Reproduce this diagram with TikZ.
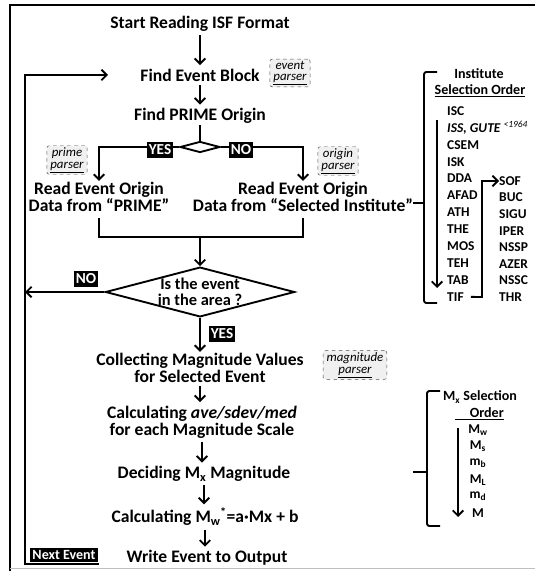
\documentclass[tikz,border=0pt]{standalone}
\usepackage{fontspec}
\setmainfont{Carlito}
\usetikzlibrary{shapes.geometric, arrows.meta, positioning}

\begin{document}
\begin{tikzpicture}[
    x=0.03cm, y=-0.03cm,
    flow/.style={align=center, inner sep=1pt, font=\bfseries\fontsize{15}{14.5}\selectfont},
    parser/.style={draw=black!70, dashed, fill=black!6, rounded corners=2pt, align=center, inner xsep=3pt, inner ysep=1.5pt, font=\itshape\fontsize{11}{10}\selectfont},
    tag/.style={fill=black, text=white, inner sep=1.5pt, text height=9pt, text depth=1pt, font=\bfseries\fontsize{13}{13}\selectfont},
    item/.style={inner sep=0pt, font=\bfseries\fontsize{11.5}{12}\selectfont},
    heading/.style={inner sep=0pt, font=\bfseries\fontsize{12}{12}\selectfont},
    wire/.style={line width=1.6pt},
    arrow/.style={->, >={Straight Barb[length=4.5pt, width=9pt]}, line width=1.6pt},
    brk/.style={line width=1.6pt, rounded corners=2pt}
]
\useasboundingbox (0,0) rectangle (535,571);

% frame
\draw[line width=2.2pt] (10,571) -- (10,5) -- (535,5);
\draw[black!25, line width=0.8pt] (10,568.5) -- (535,568.5);

% main flow
\node[flow] (start) at (200,24) {Start Reading ISF Format};
\node[flow] (event) at (200,75) {Find Event Block};
\node[flow] (prime) at (200,116) {Find PRIME Origin};
\node[draw, diamond, wire, inner sep=0pt, minimum width=1.2cm, minimum height=0.33cm] (sel) at (200,147) {};
\node[flow] (readA) at (99,197) {Read Event Origin\\Data from “PRIME”};
\node[flow] (readB) at (303,197) {Read Event Origin\\Data from “Selected Institute”};
\node[flow, draw, diamond, wire, aspect=3.8, inner sep=0pt, font=\bfseries\fontsize{14}{13.6}\selectfont] (area) at (200,292) {Is the event\\in the area ?};
\node[flow] (collect) at (200,368) {Collecting Magnitude Values\\for Selected Event};
\node[flow] (stats) at (202,422) {Calculating \textit{ave/sdev/med}\\for each Magnitude Scale};
\node[flow] (decide) at (204,474) {Deciding M\textsubscript{x} Magnitude};
\node[flow] (convert) at (205,517) {Calculating M\textsubscript{w}\kern-0.5pt\textsuperscript{*}=a·Mx + b};
\node[flow] (write) at (207,558) {Write Event to Output};

\foreach \from/\to in {start/event, event/prime, collect/stats, stats/decide, decide/convert, convert/write}
    \draw[arrow, shorten <=2pt, shorten >=2pt] (\from.south) -- (\from.south |- \to.north);

% origin choice
\draw[wire] (prime) -- (sel);
\draw[arrow] (sel.west) -| (readA.north);
\draw[arrow] (sel.east) -| (readB.north);
\node[tag] (yesA) at (160,150) {YES};
\node[tag] (noA) at (241,150) {NO};

\coordinate (join) at (200,237);
\draw[wire, shorten <=4pt] (readA.south) |- (join);
\draw[wire, shorten <=4pt] (readB.south) |- (join);
\draw[arrow] (join) -- (area.north);

\coordinate (noend) at (25,292);
\draw[arrow] (area.west) -- (noend);
\node[tag] (noB) at (86,279) {NO};
\draw[arrow] (area.south) -- (collect.north);
\node[tag] (yesB) at (222,334) {YES};

% loop back
\coordinate (loopin) at (108,75);
\node[tag, inner xsep=2.5pt, text height=8.5pt, text depth=0pt, font=\bfseries\fontsize{12}{12}\selectfont] (next) at (64,555) {Next Event};
\draw[arrow] ([yshift=-1.5pt]next.south east) -| (noend) |- (loopin);

% parsers
\node[parser] (evparse) at (290,73) {event\\\underline{parser}};
\node[parser] (primeparse) at (67,160) {prime\\\underline{parser}};
\node[parser] (originparse) at (338,161) {origin\\\underline{parser}};
\node[parser] (magparse) at (355,365) {magnitude\\\underline{parser}};

% institute order
\node[heading] (insttitle) at (479,74) {Institute};
\node[heading] (instorder) at (480,91) {\underline{Selection Order}};
\foreach \name [count=\i from 0] in {ISC, {{\itshape ISS, GUTE}~\textsuperscript{\mdseries\itshape <1964}}, CSEM, ISK, DDA, AFAD, ATH, THE, MOS, TEH, TAB, TIF}
    \node[item, anchor=west] (inst\i) at (447, {111+16.9*\i}) {\name};
\foreach \name [count=\i from 0] in {SOF, BUC, SIGU, IPER, NSSP, AZER, NSSC, THR}
    \node[item, anchor=west] (alt\i) at (499, {181+16.6*\i}) {\name};
\draw[brk] (437,72) -- (424,72) -- (424,303) -- (437,303);
\draw[wire] (413,203) -- (424,203);
\draw[arrow] (437,120) -- (437,288);
\coordinate (turn) at (482,297);
\draw[arrow] ([xshift=6pt]inst11.east) -- (turn) |- (alt0.west);

% magnitude order
\node[heading] (mxtitle) at (480,397) {M\textsubscript{x} Selection};
\node[heading, anchor=east] (mxorder) at (504,414) {\underline{\hspace{13pt}Order}};
\foreach \name [count=\i from 0] in {M\textsubscript{w}, M\textsubscript{s}, m\textsubscript{b}, M\textsubscript{L}, m\textsubscript{d}, M}
    \node[item] (mx\i) at (478, {430+16.6*\i}) {\name};
\draw[brk] (440,391) -- (427,391) -- (427,526) -- (440,526);
\draw[wire] (413,472) -- (427,472);
\draw[arrow] (458,428) -- (458,517);

\end{tikzpicture}
\end{document}
